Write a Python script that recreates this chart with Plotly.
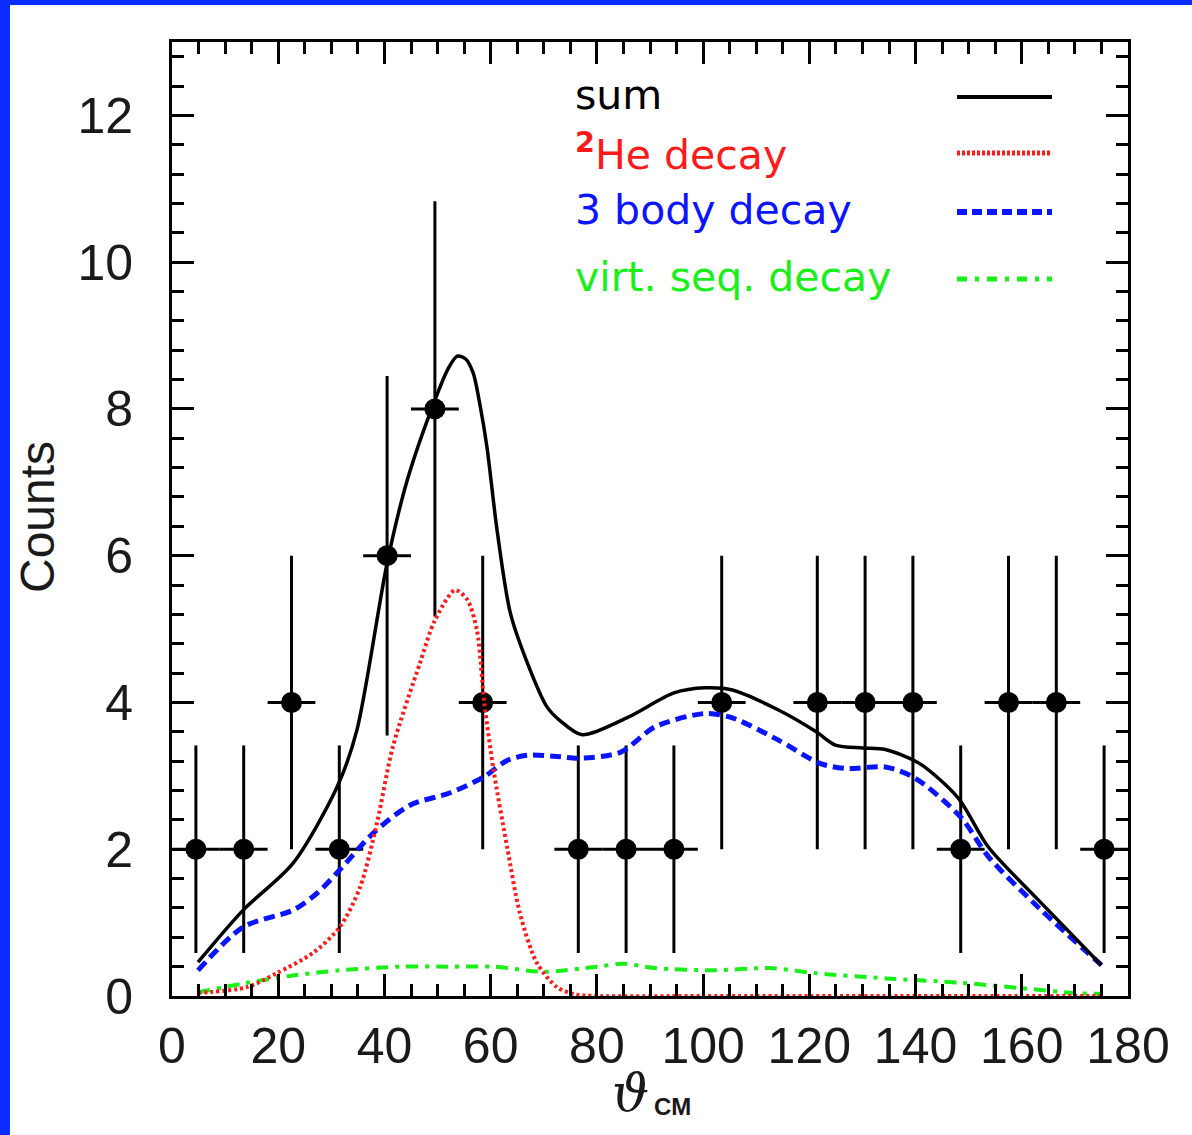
import numpy as np
import plotly.graph_objects as go

# ---------------- data ----------------
bin_centers = [4.5, 13.5, 22.5, 31.5, 40.5, 49.5, 58.5, 76.5, 85.5, 94.5,
               103.5, 121.5, 130.5, 139.5, 148.5, 157.5, 166.5, 175.5]
counts = [2, 2, 4, 2, 6, 8, 4, 2, 2, 2, 4, 4, 4, 4, 2, 4, 4, 2]
bin_half_width = [4.5] * len(bin_centers)
count_err = [float(np.sqrt(c)) for c in counts]

sum_x = [4.9, 13.4, 22.8, 31.1, 34.8, 40.5, 44.3, 49.5, 52.0, 53.7, 55.3, 56.7, 58.0,
         59.3, 61.2, 63.7, 66.9, 70.6, 73.1, 77.2, 85.9, 94.5, 100.4, 105.5, 114.1,
         121.3, 124.9, 130.0, 134.3, 140.7, 148.0, 153.7, 163.1, 175.0]
sum_y = [0.46, 1.17, 1.81, 2.85, 3.62, 5.9, 7.03, 8.12, 8.55, 8.72, 8.68, 8.49, 8.05,
         7.48, 6.35, 5.22, 4.54, 3.94, 3.75, 3.56, 3.80, 4.13, 4.2, 4.17, 3.9,
         3.6, 3.42, 3.38, 3.36, 3.17, 2.7, 2.03, 1.31, 0.42]

he2_x = [4.9, 14.1, 19.7, 26.6, 31.6, 35.4, 38.6, 41.6, 46.7, 49.5, 53.3, 55.6,
         57.4, 58.8, 60.5, 63.1, 65.5, 68.7, 72.5, 76.0, 80.0, 100.0, 120.0,
         140.0, 160.0, 175.0]
he2_y = [0.04, 0.12, 0.31, 0.59, 0.94, 1.48, 2.36, 3.4, 4.54, 5.12, 5.53, 5.4,
         4.99, 4.0, 3.1, 2.03, 1.13, 0.45, 0.12, 0.02, 0.0, 0.0, 0.0,
         0.0, 0.0, 0.0]

body3_x = [4.9, 13.4, 22.8, 27.3, 31.6, 37.9, 44.8, 52.4, 58.6, 63.1, 66.9,
           73.1, 76.5, 84.4, 91.0, 100.4, 105.5, 114.1, 122.0, 126.9, 134.3,
           139.9, 148.6, 153.7, 163.1, 175.0]
body3_y = [0.35, 0.94, 1.17, 1.4, 1.72, 2.22, 2.6, 2.77, 2.98, 3.21, 3.28,
           3.26, 3.24, 3.32, 3.67, 3.85, 3.79, 3.49, 3.17, 3.1, 3.12,
           2.97, 2.43, 1.9, 1.21, 0.42]

seq_x = [4.9, 13.4, 22.8, 31.6, 42.9, 52.4, 60.5, 69.9, 80.0, 85.0, 91.0,
         101.7, 112.6, 121.3, 134.3, 148.6, 159.5, 170.0, 175.0]
seq_y = [0.05, 0.17, 0.28, 0.35, 0.4, 0.4, 0.4, 0.33, 0.4, 0.44, 0.38,
         0.35, 0.38, 0.31, 0.24, 0.18, 0.11, 0.04, 0.03]

x_ticks = [0, 20, 40, 60, 80, 100, 120, 140, 160, 180]
y_ticks = [0, 2, 4, 6, 8, 10, 12]

legend_labels = ["sum", "<sup><b>2</b></sup>He decay", "3 body decay", "virt. seq. decay"]

# ---------------- styles ----------------
BLACK = "#000000"
RED = "#ff1a1a"
BLUE = "#0a14ff"
GREEN = "#19f019"

fig = go.Figure()

fig.add_trace(go.Scatter(
    x=bin_centers, y=counts, mode="markers",
    marker=dict(color=BLACK, size=21),
    error_x=dict(type="data", array=bin_half_width, color=BLACK, thickness=3, width=0),
    error_y=dict(type="data", array=count_err, color=BLACK, thickness=3, width=0),
    showlegend=False, cliponaxis=True,
))

fig.add_trace(go.Scatter(x=seq_x, y=seq_y, mode="lines",
                         line=dict(color=GREEN, width=4, dash="12px,7px,4px,7px", shape="spline", smoothing=0.8),
                         showlegend=False))
fig.add_trace(go.Scatter(x=body3_x, y=body3_y, mode="lines",
                         line=dict(color=BLUE, width=5, dash="11px,6px", shape="spline", smoothing=0.8),
                         showlegend=False))
fig.add_trace(go.Scatter(x=he2_x, y=he2_y, mode="lines",
                         line=dict(color=RED, width=4, dash="3px,3px", shape="spline", smoothing=0.8),
                         showlegend=False))
fig.add_trace(go.Scatter(x=sum_x, y=sum_y, mode="lines",
                         line=dict(color=BLACK, width=3.5, shape="spline", smoothing=0.8),
                         showlegend=False))

W, H = 1192, 1135
L, R, T, B = 172, 1128, 42, 996
pw, ph = R - L, B - T


def px2paper_x(px):
    return (px - L) / pw


def py2paper_y(py):
    return (B - py) / ph


axis_common = dict(
    showline=True, linecolor=BLACK, linewidth=3, mirror="allticks",
    ticks="inside", ticklen=22, tickwidth=3, tickcolor=BLACK,
    showgrid=False, zeroline=False,
    tickfont=dict(family="Liberation Sans, Arial, sans-serif", size=50, color="#1a1a1a"),
)

fig.update_xaxes(range=[0, 180], tickvals=x_ticks, ticktext=[str(v) for v in x_ticks],
                 minor=dict(dtick=5, tick0=0, ticks="inside", ticklen=12, tickwidth=3, tickcolor=BLACK, showgrid=False),
                 ticklabelstandoff=4, **axis_common)
fig.update_yaxes(range=[0, 13], tickvals=y_ticks, ticktext=[str(v) for v in y_ticks],
                 minor=dict(dtick=0.4, tick0=0, ticks="inside", ticklen=12, tickwidth=3, tickcolor=BLACK, showgrid=False),
                 ticklabelstandoff=26, **axis_common)

shapes = []
# blue frame strips (left and top)
BORDER = "#0a2cff"
shapes.append(dict(type="rect", xref="paper", yref="paper",
                   x0=px2paper_x(0), x1=px2paper_x(10), y0=py2paper_y(H), y1=py2paper_y(0),
                   fillcolor=BORDER, line=dict(width=0), layer="above"))
shapes.append(dict(type="rect", xref="paper", yref="paper",
                   x0=px2paper_x(0), x1=px2paper_x(W), y0=py2paper_y(5), y1=py2paper_y(0),
                   fillcolor=BORDER, line=dict(width=0), layer="above"))

# legend samples
legend_text_y = [95, 152, 210, 277]
legend_line_y = [97, 153, 212, 279]
legend_colors = [BLACK, RED, BLUE, GREEN]
legend_dash = ["solid", "3px,2px", "10px,5px", "10px,8px,4px,8px"]
legend_width = [4, 5, 6, 5]
for yy, c, d, w in zip(legend_line_y, legend_colors, legend_dash, legend_width):
    shapes.append(dict(type="line", xref="paper", yref="paper",
                       x0=px2paper_x(957), x1=px2paper_x(1052),
                       y0=py2paper_y(yy), y1=py2paper_y(yy),
                       line=dict(color=c, width=w, dash=d)))

annotations = []
for lbl, yy, c in zip(legend_labels, legend_text_y, legend_colors):
    annotations.append(dict(text=lbl, xref="paper", yref="paper",
                            x=px2paper_x(573), y=py2paper_y(yy),
                            xanchor="left", yanchor="middle", showarrow=False,
                            font=dict(family="DejaVu Sans, sans-serif", size=41, color=c)))

annotations.append(dict(text="Counts", xref="paper", yref="paper",
                        x=px2paper_x(37), y=py2paper_y(517), textangle=-90,
                        xanchor="center", yanchor="middle", showarrow=False,
                        font=dict(family="Liberation Sans, Arial, sans-serif", size=48, color="#1a1a1a")))
annotations.append(dict(text="<i>ϑ</i>", xref="paper", yref="paper",
                        x=px2paper_x(630), y=py2paper_y(1093),
                        xanchor="center", yanchor="middle", showarrow=False,
                        font=dict(family="DejaVu Serif, serif", size=52, color="#1a1a1a")))
annotations.append(dict(text="<b>CM</b>", xref="paper", yref="paper",
                        x=px2paper_x(652), y=py2paper_y(1106),
                        xanchor="left", yanchor="middle", showarrow=False,
                        font=dict(family="Liberation Sans, Arial, sans-serif", size=24, color="#1a1a1a")))

fig.update_layout(
    width=W, height=H,
    margin=dict(l=L, r=W - R, t=T, b=H - B, pad=0),
    paper_bgcolor="white", plot_bgcolor="white",
    shapes=shapes, annotations=annotations, showlegend=False,
)

fig.write_html("out.html", config={"displayModeBar": False},
               post_script="document.body.style.margin='0px';")
